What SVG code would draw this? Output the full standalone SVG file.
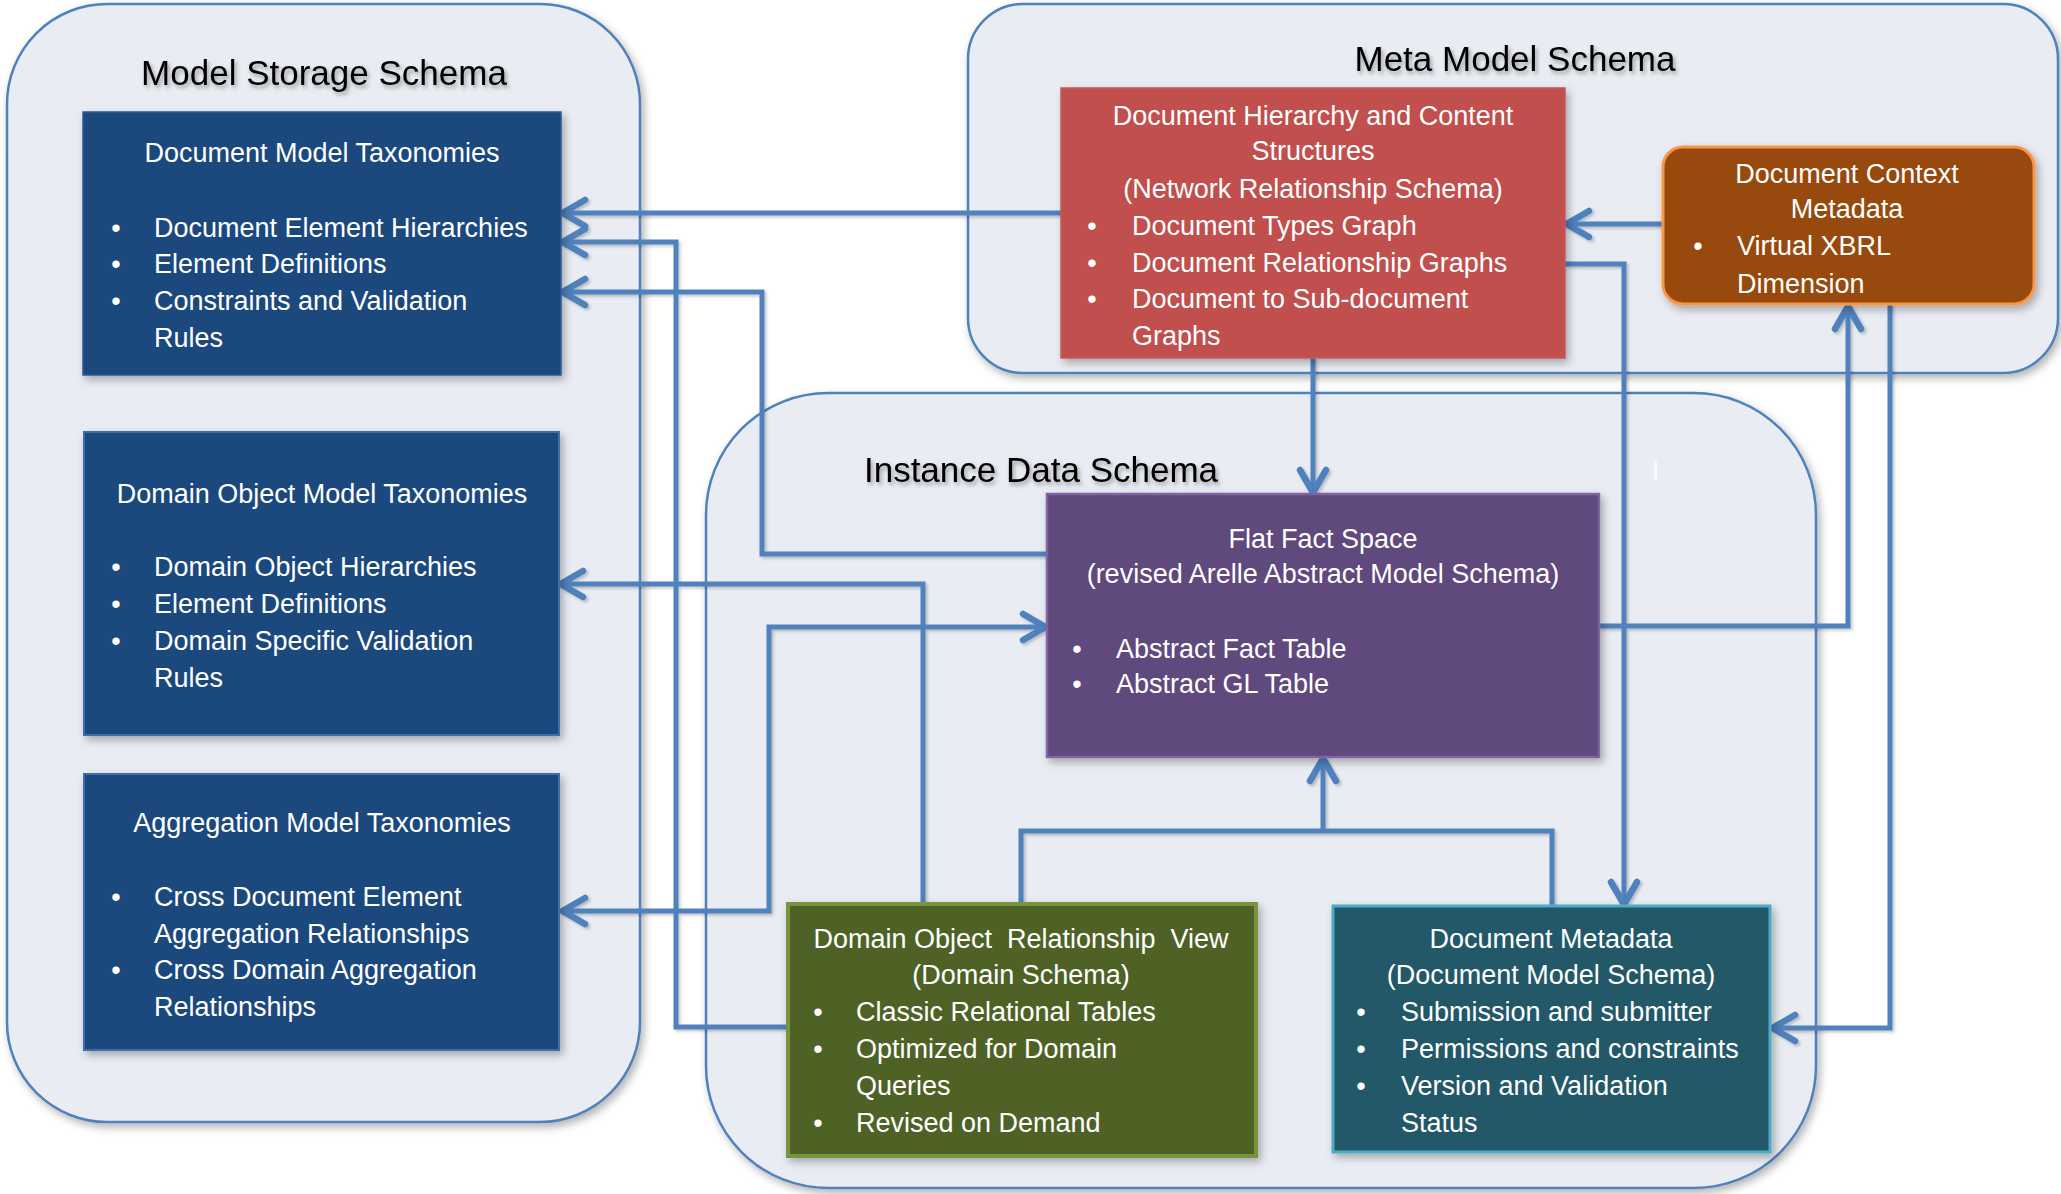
<svg xmlns="http://www.w3.org/2000/svg" width="2061" height="1194" viewBox="0 0 2061 1194">
<style>
.cont{fill:#E9ECF2;stroke:#4F81BD;stroke-width:2.5}
.title{font-family:"Liberation Sans",Arial,sans-serif;font-size:35px;fill:#000;text-anchor:middle}
.t{font-family:"Liberation Sans",Arial,sans-serif;font-size:27px;fill:#FFFFFF}
.c{text-anchor:middle}
.b{text-anchor:middle}
.conn{fill:none;stroke:#4F81BD;stroke-width:5}
</style>
<defs>
<filter id="sh" x="-10%" y="-10%" width="125%" height="125%">
<feDropShadow dx="3" dy="4" stdDeviation="4" flood-color="#000" flood-opacity="0.3"/>
</filter>
<filter id="tsh" x="-10%" y="-30%" width="120%" height="170%">
<feDropShadow dx="2" dy="3" stdDeviation="2" flood-color="#000" flood-opacity="0.35"/>
</filter>
<filter id="lsh" x="-5%" y="-5%" width="110%" height="110%">
<feDropShadow dx="2" dy="2" stdDeviation="1.5" flood-color="#000" flood-opacity="0.22"/>
</filter>
<marker id="arr" markerUnits="userSpaceOnUse" markerWidth="40" markerHeight="40" viewBox="-32 -20 40 40" refX="0" refY="0" orient="auto-start-reverse">
<path d="M-24,-13 L-1.5,0 L-24,13" fill="none" stroke="#4F81BD" stroke-width="6.5" stroke-linecap="round" stroke-linejoin="round"/>
</marker>
</defs>

<g id="model-storage-schema">
<rect class="cont" filter="url(#sh)" x="7" y="4" width="633" height="1118" rx="100" ry="100"/>
<text class="title" filter="url(#tsh)" x="324" y="85">Model Storage Schema</text>
</g>
<g id="meta-model-schema">
<rect class="cont" filter="url(#sh)" x="968" y="4" width="1090" height="369" rx="55" ry="55"/>
<text class="title" filter="url(#tsh)" x="1515" y="71">Meta Model Schema</text>
</g>
<g id="instance-data-schema">
<rect class="cont" filter="url(#sh)" x="706" y="393" width="1110" height="795" rx="122" ry="122"/>
<text class="title" filter="url(#tsh)" x="1041" y="482">Instance Data Schema</text>
<rect x="1654" y="461" width="3" height="20" fill="#F7F8FA"/>
</g>

<g id="connectors" filter="url(#lsh)">
<path class="conn" d="M1061,213 H561" marker-end="url(#arr)"/>
<path class="conn" d="M787,1027 H676 V242 H561" marker-end="url(#arr)"/>
<path class="conn" d="M1047,554 H762 V292 H561" marker-end="url(#arr)"/>
<path class="conn" d="M923,903 V584 H559" marker-end="url(#arr)"/>
<path class="conn" d="M561,911 H769 V627 H1047" marker-start="url(#arr)" marker-end="url(#arr)"/>
<path class="conn" d="M1021,903 V831 H1552 V906"/>
<path class="conn" d="M1323,831 V757" marker-end="url(#arr)"/>
<path class="conn" d="M1565,264 H1624 V906" marker-end="url(#arr)"/>
<path class="conn" d="M1662,224 H1565" marker-end="url(#arr)"/>
<path class="conn" d="M1313,358 V494" marker-end="url(#arr)"/>
<path class="conn" d="M1599,626 H1848 V305" marker-end="url(#arr)"/>
<path class="conn" d="M1890,304 V1028 H1771" marker-end="url(#arr)"/>
</g>

<g id="document-model-taxonomies">
<rect filter="url(#sh)" x="83" y="112" width="478" height="263" fill="#1F497D" stroke="#2E5A93" stroke-width="1.5"/>
<text class="t c" x="322" y="162">Document Model Taxonomies</text>
<text class="t b" x="116" y="237">•</text><text class="t" x="154" y="237">Document Element Hierarchies</text>
<text class="t b" x="116" y="273">•</text><text class="t" x="154" y="273">Element Definitions</text>
<text class="t b" x="116" y="310">•</text><text class="t" x="154" y="310">Constraints and Validation</text>
<text class="t" x="154" y="347">Rules</text>
</g>

<g id="domain-object-model-taxonomies">
<rect filter="url(#sh)" x="84" y="432" width="475" height="303" fill="#1F497D" stroke="#3D6DAA" stroke-width="2"/>
<text class="t c" x="322" y="503">Domain Object Model Taxonomies</text>
<text class="t b" x="116" y="576">•</text><text class="t" x="154" y="576">Domain Object Hierarchies</text>
<text class="t b" x="116" y="613">•</text><text class="t" x="154" y="613">Element Definitions</text>
<text class="t b" x="116" y="650">•</text><text class="t" x="154" y="650">Domain Specific Validation</text>
<text class="t" x="154" y="687">Rules</text>
</g>

<g id="aggregation-model-taxonomies">
<rect filter="url(#sh)" x="84" y="774" width="475" height="276" fill="#1F497D" stroke="#3D6DAA" stroke-width="2"/>
<text class="t c" x="322" y="832">Aggregation Model Taxonomies</text>
<text class="t b" x="116" y="906">•</text><text class="t" x="154" y="906">Cross Document Element</text>
<text class="t" x="154" y="943">Aggregation Relationships</text>
<text class="t b" x="116" y="979">•</text><text class="t" x="154" y="979">Cross Domain Aggregation</text>
<text class="t" x="154" y="1016">Relationships</text>
</g>

<g id="document-hierarchy-content-structures">
<rect filter="url(#sh)" x="1061" y="88" width="504" height="270" fill="#C0504D" stroke="#C65A57" stroke-width="1.5"/>
<text class="t c" x="1313" y="125">Document Hierarchy and Content</text>
<text class="t c" x="1313" y="160">Structures</text>
<text class="t c" x="1313" y="198">(Network Relationship Schema)</text>
<text class="t b" x="1092" y="235">•</text><text class="t" x="1132" y="235">Document Types Graph</text>
<text class="t b" x="1092" y="272">•</text><text class="t" x="1132" y="272">Document Relationship Graphs</text>
<text class="t b" x="1092" y="308">•</text><text class="t" x="1132" y="308">Document to Sub-document</text>
<text class="t" x="1132" y="345">Graphs</text>
</g>

<g id="document-context-metadata">
<rect filter="url(#sh)" x="1663" y="147" width="371" height="157" rx="20" ry="20" fill="#984807" stroke="#F79646" stroke-width="3"/>
<text class="t c" x="1847" y="183">Document Context</text>
<text class="t c" x="1847" y="218">Metadata</text>
<text class="t b" x="1698" y="255">•</text><text class="t" x="1737" y="255">Virtual XBRL</text>
<text class="t" x="1737" y="293">Dimension</text>
</g>

<g id="flat-fact-space">
<rect filter="url(#sh)" x="1047" y="494" width="552" height="263" fill="#604A7B" stroke="#8064A2" stroke-width="2.5"/>
<text class="t c" x="1323" y="548">Flat Fact Space</text>
<text class="t c" x="1323" y="583">(revised Arelle Abstract Model Schema)</text>
<text class="t b" x="1077" y="658">•</text><text class="t" x="1116" y="658">Abstract Fact Table</text>
<text class="t b" x="1077" y="693">•</text><text class="t" x="1116" y="693">Abstract GL Table</text>
</g>

<g id="domain-object-relationship-view">
<rect filter="url(#sh)" x="788" y="904" width="468" height="252" fill="#4F6228" stroke="#77933C" stroke-width="4"/>
<text class="t c" x="1021" y="948" xml:space="preserve">Domain Object  Relationship  View</text>
<text class="t c" x="1021" y="984">(Domain Schema)</text>
<text class="t b" x="818" y="1021">•</text><text class="t" x="856" y="1021">Classic Relational Tables</text>
<text class="t b" x="818" y="1058">•</text><text class="t" x="856" y="1058">Optimized for Domain</text>
<text class="t" x="856" y="1095">Queries</text>
<text class="t b" x="818" y="1132">•</text><text class="t" x="856" y="1132">Revised on Demand</text>
</g>

<g id="document-metadata">
<rect filter="url(#sh)" x="1333" y="906" width="437" height="246" fill="#215968" stroke="#4BACC6" stroke-width="3"/>
<text class="t c" x="1551" y="948">Document Metadata</text>
<text class="t c" x="1551" y="984">(Document Model Schema)</text>
<text class="t b" x="1361" y="1021">•</text><text class="t" x="1401" y="1021">Submission and submitter</text>
<text class="t b" x="1361" y="1058">•</text><text class="t" x="1401" y="1058">Permissions and constraints</text>
<text class="t b" x="1361" y="1095">•</text><text class="t" x="1401" y="1095">Version and Validation</text>
<text class="t" x="1401" y="1132">Status</text>
</g>
</svg>
